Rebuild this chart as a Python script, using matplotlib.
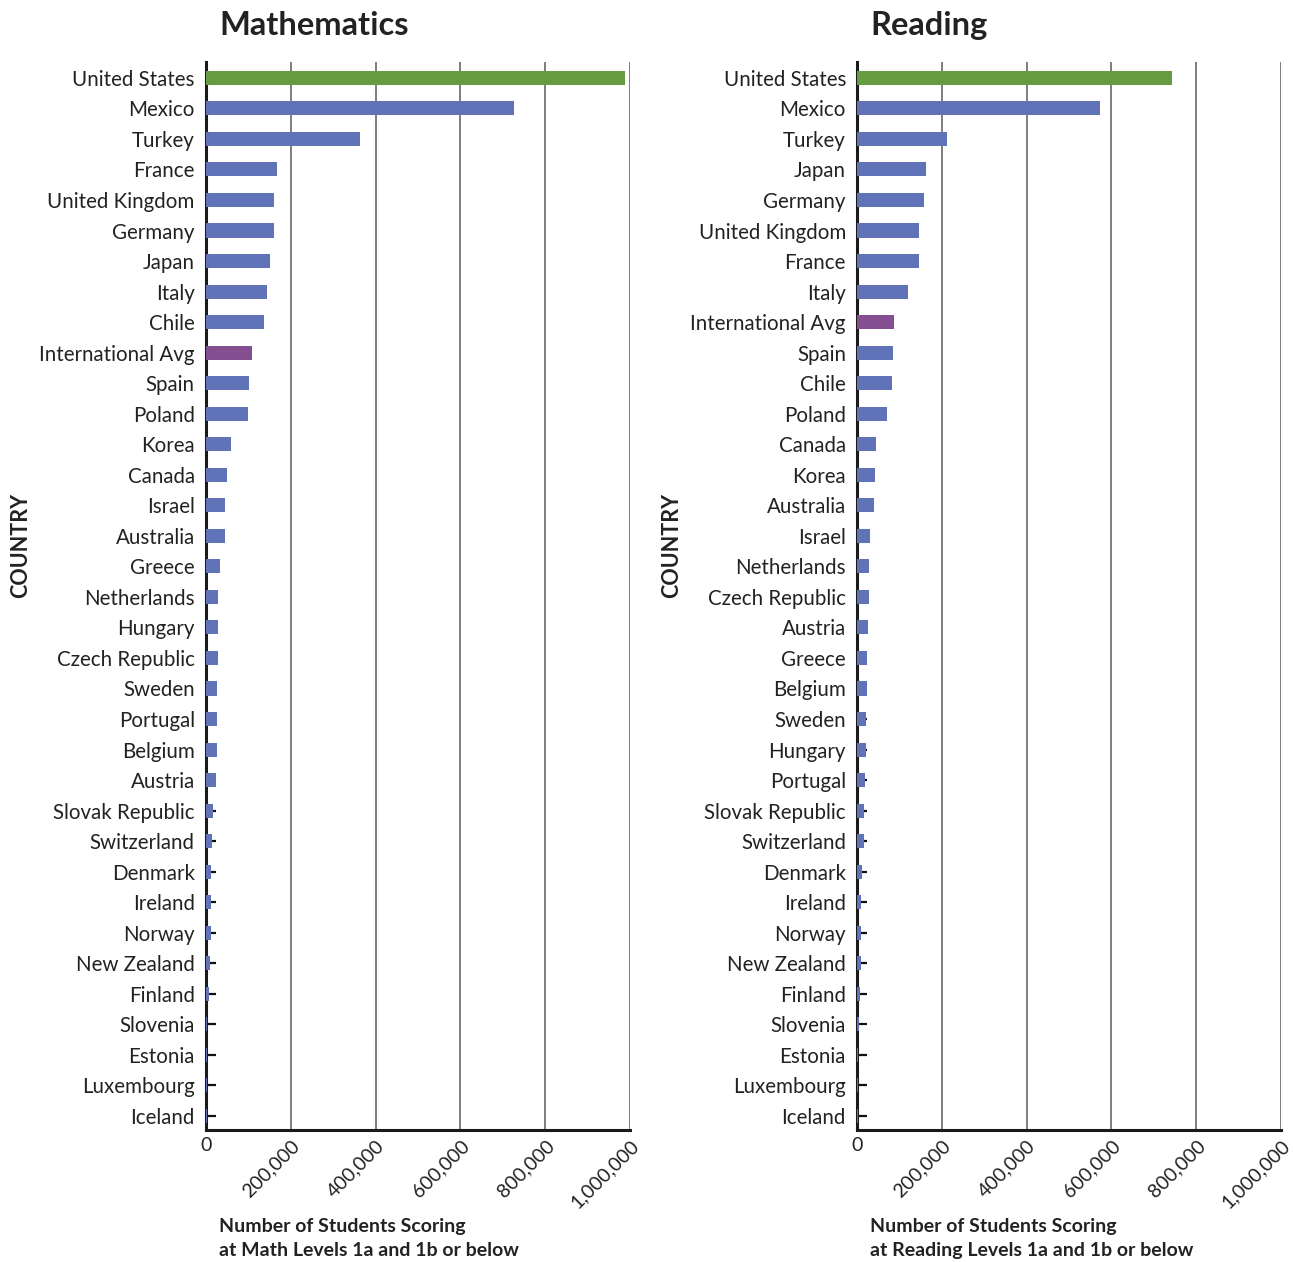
"""PISA low performers by country: mathematics vs reading."""

import matplotlib
matplotlib.use("Agg")
import matplotlib.pyplot as plt
from matplotlib.ticker import FuncFormatter

plt.rcParams["font.family"] = ["Lato", "DejaVu Sans"]

# ---- data ----
math_countries = [
    "United States", "Mexico", "Turkey", "France", "United Kingdom", "Germany",
    "Japan", "Italy", "Chile", "International Avg", "Spain", "Poland", "Korea",
    "Canada", "Israel", "Australia", "Greece", "Netherlands", "Hungary",
    "Czech Republic", "Sweden", "Portugal", "Belgium", "Austria",
    "Slovak Republic", "Switzerland", "Denmark", "Ireland", "Norway",
    "New Zealand", "Finland", "Slovenia", "Estonia", "Luxembourg", "Iceland",
]
math_values = [
    988000, 726000, 363000, 167000, 160000, 160000,
    151000, 144000, 137000, 108000, 101000, 99000, 59000,
    50000, 45000, 45000, 33000, 28000, 28000,
    28000, 26000, 26000, 26000, 24000,
    16000, 13500, 11000, 11000, 11000,
    8600, 7000, 3000, 2400, 2400, 1600,
]

reading_countries = [
    "United States", "Mexico", "Turkey", "Japan", "Germany", "United Kingdom",
    "France", "Italy", "International Avg", "Spain", "Chile", "Poland",
    "Canada", "Korea", "Australia", "Israel", "Netherlands", "Czech Republic",
    "Austria", "Greece", "Belgium", "Sweden", "Hungary", "Portugal",
    "Slovak Republic", "Switzerland", "Denmark", "Ireland", "Norway",
    "New Zealand", "Finland", "Slovenia", "Estonia", "Luxembourg", "Iceland",
]
reading_values = [
    744000, 574000, 213000, 163000, 159000, 147000,
    147000, 121000, 88000, 86000, 83000, 71000,
    45500, 43000, 41000, 31500, 29000, 29000,
    26600, 24200, 24200, 21800, 21800, 19400,
    17000, 17000, 12300, 10000, 10000,
    9500, 7000, 4700, 2300, 2000, 1500,
]

GREEN = "#659c3f"
BLUE = "#6173b8"
PURPLE = "#844f90"
TEXT = "#222222"


def bar_color(name):
    if name == "United States":
        return GREEN
    if name == "International Avg":
        return PURPLE
    return BLUE


def draw_panel(fig, rect, countries, values, title, xlabel):
    ax = fig.add_axes(rect)
    y = list(range(len(countries)))
    ax.barh(y, values, height=0.46, color=[bar_color(c) for c in countries], zorder=3)

    ax.set_xlim(0, 1_000_000)
    ax.set_ylim(len(countries) - 0.54, -0.52)
    ax.set_xticks(range(0, 1_000_001, 200_000))
    ax.xaxis.set_major_formatter(FuncFormatter(lambda v, _: f"{int(v):,}"))
    ax.set_yticks(y)
    ax.set_yticklabels(countries)

    ax.tick_params(axis="y", direction="in", length=7.5, width=1.6, color="#111111",
                   pad=8, labelsize=14.8, labelcolor=TEXT)
    ax.tick_params(axis="x", length=0, pad=5, labelsize=14, labelcolor=TEXT)
    xlabels = ax.get_xticklabels()
    for lab in xlabels[1:]:
        lab.set_rotation(45)
        lab.set_ha("right")
        lab.set_va("top")
        lab.set_rotation_mode("anchor")
    xlabels[0].set_ha("center")

    ax.grid(axis="x", color="#5a5a5a", linewidth=1.1, zorder=0)
    ax.set_axisbelow(True)
    for side in ("top", "right"):
        ax.spines[side].set_visible(False)
    for side in ("left", "bottom"):
        ax.spines[side].set_linewidth(2.2)
        ax.spines[side].set_color("#1a1a1a")

    x0 = rect[0]
    fig.text(x0 + 0.010, 0.968, title, fontsize=23.5, fontweight="bold",
             color=TEXT, ha="left", va="bottom")
    fig.text(x0 + 0.010, 0.002, xlabel, fontsize=14, fontweight="bold",
             color=TEXT, ha="left", va="bottom", linespacing=1.5)
    fig.text(x0 - 0.143, 0.568, "COUNTRY", fontsize=15.5, fontweight="bold",
             color=TEXT, rotation=90, ha="center", va="center")
    return ax


fig = plt.figure(figsize=(12.93, 12.62), dpi=100)
draw_panel(fig, [0.1593, 0.1046, 0.3279, 0.8463], math_countries, math_values,
           "Mathematics",
           "Number of Students Scoring\nat Math Levels 1a and 1b or below")
draw_panel(fig, [0.6628, 0.1046, 0.3279, 0.8463], reading_countries, reading_values,
           "Reading",
           "Number of Students Scoring\nat Reading Levels 1a and 1b or below")

fig.savefig("out.png", dpi=100)
